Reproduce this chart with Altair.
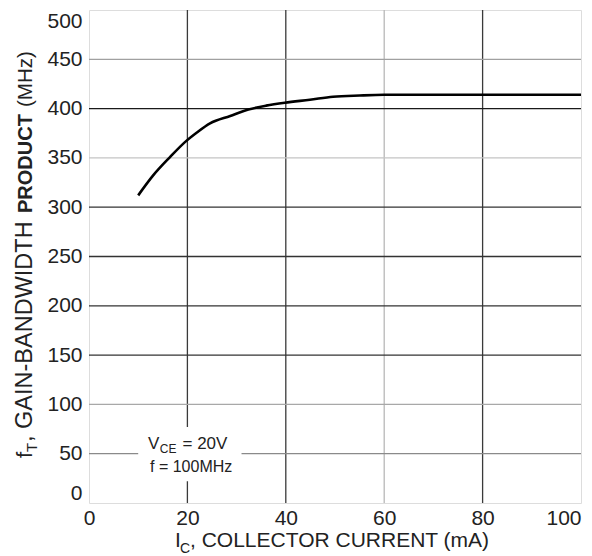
import altair as alt
import pandas as pd

# Gain-bandwidth product vs collector current (VCE = 20 V, f = 100 MHz)
ic_ma = [10, 13, 16.5, 19.5, 22, 24.6, 28.7, 32.4, 36, 39.8, 44.9, 49.6, 55, 60, 70, 80, 90, 100]
ft_mhz = [312, 332, 351, 366, 376, 385, 392.5, 399, 403, 406, 409, 412, 413.3, 414, 414, 414, 414, 414]

x_ticks = [0, 20, 40, 60, 80, 100]
y_ticks = [0, 50, 100, 150, 200, 250, 300, 350, 400, 450, 500]

# grid lines (value, colour)
x_grid = [20, 40, 60, 80]
x_grid_color = ["#3a3a3a", "#3a3a3a", "#b8b8b8", "#3a3a3a"]
y_grid = [50, 100, 150, 200, 250, 300, 350, 400, 450]
y_grid_color = ["#8a8a8a", "#a8a8a8", "#333333", "#333333", "#333333",
                "#333333", "#c4c4c4", "#1a1a1a", "#a0a0a0"]

FONT = "Liberation Sans"
W, H = 492, 493

xs = alt.Scale(domain=[0, 100], nice=False, zero=False)
ys = alt.Scale(domain=[0, 500], nice=False, zero=False)

curve_df = pd.DataFrame({"ic": ic_ma, "ft": ft_mhz})
xg_df = pd.DataFrame({"v": x_grid, "c": x_grid_color})
yg_df = pd.DataFrame({"v": y_grid, "c": y_grid_color})

base_x = alt.X("ic:Q", scale=xs, axis=alt.Axis(
    values=x_ticks, title=None, grid=False, domain=False, ticks=False,
    labelFont=FONT, labelFontSize=21, labelColor="#222", labelPadding=4,
    labelAlign=alt.ExprRef(expr="datum.value == 100 ? 'right' : 'center'")))
base_y = alt.Y("ft:Q", scale=ys, axis=alt.Axis(
    values=y_ticks, title=None, grid=False, domain=False, ticks=False,
    labelFont=FONT, labelFontSize=21, labelColor="#222", labelPadding=7,
    labelFlush=True))

xgrid = alt.Chart(xg_df).mark_rule(strokeWidth=1.3).encode(
    x=alt.X("v:Q", scale=xs), color=alt.Color("c:N", scale=None))
ygrid = alt.Chart(yg_df).mark_rule(strokeWidth=1.3).encode(
    y=alt.Y("v:Q", scale=ys), color=alt.Color("c:N", scale=None))

# white panel behind the test-condition note
note_box = pd.DataFrame({"x1": [10.0], "x2": [31.0], "y1": [22.0], "y2": [77.0]})
box = alt.Chart(note_box).mark_rect(color="white").encode(
    x=alt.X("x1:Q", scale=xs), x2="x2:Q", y=alt.Y("y1:Q", scale=ys), y2="y2:Q")

curve = alt.Chart(curve_df).mark_line(
    color="black", strokeWidth=2.6, interpolate="monotone").encode(x=base_x, y=base_y)

# test-condition note, positioned in data units
note_df = pd.DataFrame({
    "x": [12.0, 14.4, 19.0, 12.4],
    "y": [54.8, 50.8, 54.8, 31.4],
    "t": ["V", "CE", "= 20V", "f = 100MHz"],
    "s": [17, 12, 17, 16],
})
note = alt.Chart(note_df).mark_text(
    align="left", baseline="alphabetic", font=FONT, color="#222").encode(
    x=alt.X("x:Q", scale=xs), y=alt.Y("y:Q", scale=ys), text="t:N",
    size=alt.Size("s:Q", scale=None))

# axis titles with subscripts, laid out piece by piece
def piece(text, x, y, size, angle=0, weight="normal"):
    return alt.Chart(pd.DataFrame({"t": [text]})).mark_text(
        align="left", baseline="alphabetic", font=FONT, fontSize=size,
        angle=angle, fontWeight=weight, color="#222").encode(
        x=alt.value(x), y=alt.value(y), text="t:N")

xtitle = [
    piece("I", 86, 537, 21),
    piece("C", 91, 543, 14),
    piece(", COLLECTOR CURRENT (mA)", 101, 537, 21),
]

ytitle = [
    piece("f", -57, 448, 22, angle=270),
    piece("T", -52, 442, 15, angle=270),
    piece(", GAIN-BANDWIDTH", -57, 432, 23.5, angle=270),
    piece("PRODUCT", -57, 203, 20, angle=270, weight="bold"),
    piece("(MHz)", -57, 97, 20.5, angle=270),
]

chart = alt.layer(
    xgrid, ygrid, box, curve, note, *xtitle, *ytitle
).properties(
    width=W, height=H,
    autosize=alt.AutoSizeParams(type="none"),
    padding={"left": 89, "top": 10, "right": 11, "bottom": 53},
).configure_view(
    stroke="#3a3a3a", strokeWidth=1.6
).configure(background="white")

chart.save("out.html", embed_options={"renderer": "svg", "actions": False})
